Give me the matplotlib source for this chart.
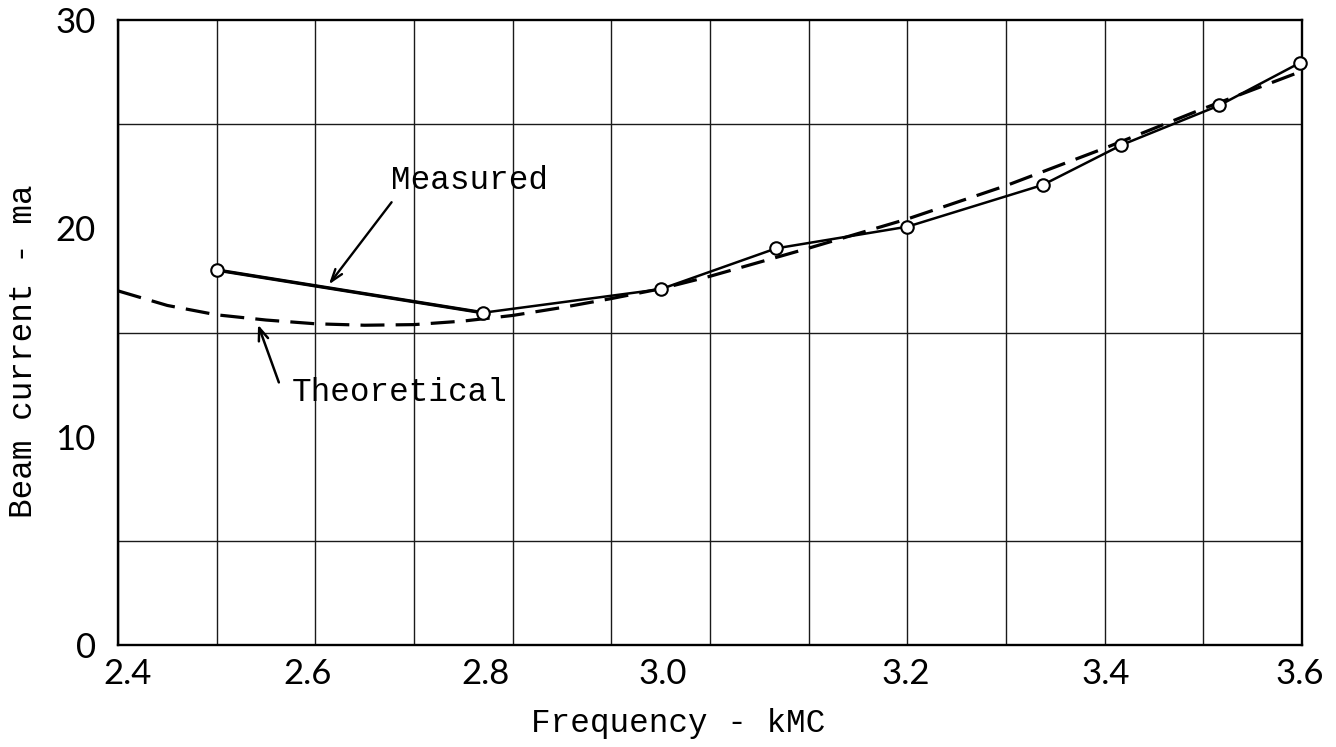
import matplotlib
matplotlib.use('Agg')
import matplotlib.pyplot as plt
import numpy as np

# Measured beam current (open circles)
meas_freq = [2.50, 2.77, 2.95, 3.067, 3.20, 3.337, 3.417, 3.516, 3.598]
meas_curr = [18.0, 15.95, 17.08, 19.04, 20.08, 22.08, 24.0, 25.9, 27.95]

# Theoretical curve (dashed)
theo_freq = [2.40, 2.45, 2.50, 2.55, 2.60, 2.65, 2.70, 2.75, 2.80, 2.85,
             2.90, 2.95, 3.00, 3.10, 3.20, 3.30, 3.40, 3.50, 3.60]
theo_curr = [17.0, 16.3, 15.85, 15.6, 15.42, 15.35, 15.38, 15.55, 15.82, 16.2,
             16.63, 17.1, 17.7, 19.05, 20.45, 22.05, 23.85, 25.75, 27.55]

# hand-lettered tick labels (placed where they sit on the original sheet)
xtick_pos = [2.41, 2.592, 2.772, 2.952, 3.198, 3.401, 3.598]
xtick_labels = ['2.4', '2.6', '2.8', '3.0', '3.2', '3.4', '3.6']
ytick_pos = [0, 10, 20, 30]
ytick_labels = ['0', '10', '20', '30']

mono = 'Liberation Mono'
tick_font = dict(family='Lato', weight='normal')

fig = plt.figure(figsize=(13.36, 7.47), dpi=100)
ax = fig.add_axes([0.0883, 0.1365, 0.8863, 0.8367])

# graph paper grid
ax.set_xticks(np.arange(2.4, 3.61, 0.1), minor=True)
ax.set_yticks(np.arange(0, 31, 5), minor=True)
ax.grid(which='minor', color='#1a1a1a', linewidth=1.0)
ax.tick_params(which='both', length=0)

ax.plot(theo_freq, theo_curr, color='black', linewidth=2.3,
        dashes=(7.5, 3.5), zorder=3)
ax.plot(meas_freq, meas_curr, color='black', linewidth=1.8, zorder=4)
# first segment is inked heavier in the original
ax.plot(meas_freq[:2], meas_curr[:2], color='black', linewidth=2.5, zorder=4)
ax.plot(meas_freq, meas_curr, linestyle='none', marker='o', markersize=9,
        markerfacecolor='white', markeredgecolor='black',
        markeredgewidth=1.5, zorder=5, clip_on=False)

ax.set_xlim(2.4, 3.6)
ax.set_ylim(0, 30)

ax.set_xticks(xtick_pos)
ax.set_xticklabels(xtick_labels, fontsize=25, **tick_font)
ax.set_yticks(ytick_pos)
ax.set_yticklabels(ytick_labels, fontsize=25, **tick_font)
ax.tick_params(axis='x', which='major', pad=9)
ax.tick_params(axis='y', which='major', pad=16)

for s in ax.spines.values():
    s.set_linewidth(1.7)
    s.set_color('black')

ax.set_xlabel('Frequency - kMC', fontsize=23.5, family=mono)
ax.xaxis.set_label_coords(0.473, -0.1)
ax.xaxis.label.set_va('top')
ax.set_ylabel('Beam current - ma', fontsize=23.5, family=mono)
ax.yaxis.set_label_coords(-0.067, 0.47)

# labels with pointer arrows
ax.text(2.756, 22.3, 'Measured', fontsize=23.5, family=mono,
        ha='center', va='center')
ax.annotate('', xy=(2.612, 17.2), xytext=(2.679, 21.36),
            arrowprops=dict(arrowstyle='->,head_length=0.9,head_width=0.3',
                            color='black', linewidth=1.7))
ax.text(2.686, 12.1, 'Theoretical', fontsize=23.5, family=mono,
        ha='center', va='center')
ax.annotate('', xy=(2.541, 15.5), xytext=(2.564, 12.48),
            arrowprops=dict(arrowstyle='->,head_length=0.9,head_width=0.35',
                            color='black', linewidth=1.8))

fig.savefig('out.png', dpi=100)
